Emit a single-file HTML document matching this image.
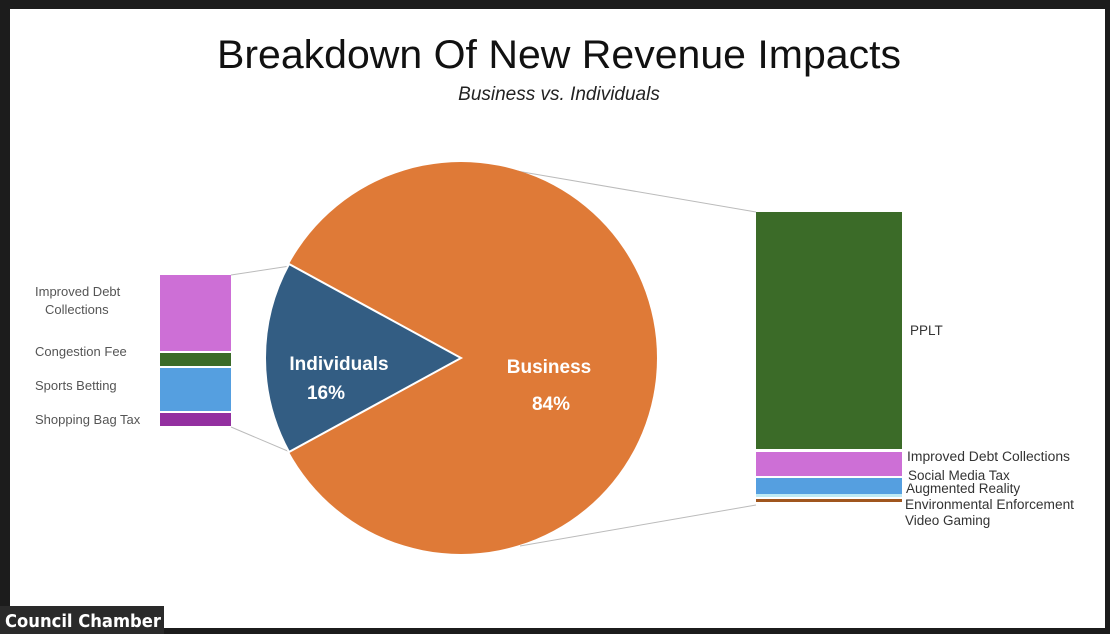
<!DOCTYPE html>
<html><head><style>
html,body{margin:0;padding:0;background:#1c1c1c;}
body{width:1110px;height:634px;position:relative;overflow:hidden;font-family:"Liberation Sans",sans-serif;}
</style></head><body>
<svg width="1110" height="634" xmlns="http://www.w3.org/2000/svg" style="position:absolute;left:0;top:0">
<rect x="0" y="0" width="1110" height="634" fill="#1c1c1c"/>
<rect x="10" y="9" width="1095" height="619" fill="#ffffff"/>
<text x="559" y="68" text-anchor="middle" font-size="40" fill="#111" font-family="Liberation Sans" textLength="684" lengthAdjust="spacingAndGlyphs">Breakdown Of New Revenue Impacts</text>
<text x="559" y="100" text-anchor="middle" font-size="19" font-style="italic" fill="#222">Business vs. Individuals</text>
<g stroke="#bbb" stroke-width="1">
<line x1="231" y1="275" x2="290" y2="266"/>
<line x1="231" y1="427" x2="290" y2="452"/>
<line x1="470" y1="163" x2="756" y2="212"/>
<line x1="520" y1="546" x2="756" y2="505"/>
</g>
<circle cx="461" cy="358" r="196" fill="#df7a37"/>
<path d="M461,358 L289,264 A196,196 0 0 0 289,452 Z" fill="#335d83" stroke="#fff" stroke-width="2"/>
<text x="339" y="370" text-anchor="middle" font-size="19" font-weight="bold" fill="#fff">Individuals</text>
<text x="326" y="399" text-anchor="middle" font-size="19" font-weight="bold" fill="#fff">16%</text>
<text x="549" y="373" text-anchor="middle" font-size="19" font-weight="bold" fill="#fff">Business</text>
<text x="551" y="410" text-anchor="middle" font-size="19" font-weight="bold" fill="#fff">84%</text>
<rect x="160" y="275" width="71" height="76" fill="#cd6fd6"/>
<rect x="160" y="353" width="71" height="13" fill="#3b6b28"/>
<rect x="160" y="368" width="71" height="43" fill="#559fe0"/>
<rect x="160" y="413" width="71" height="13" fill="#9330a0"/>
<g font-size="13" fill="#555">
<text x="35" y="296">Improved Debt</text>
<text x="45" y="314">Collections</text>
<text x="35" y="356">Congestion Fee</text>
<text x="35" y="390">Sports Betting</text>
<text x="35" y="424">Shopping Bag Tax</text>
</g>
<rect x="756" y="212" width="146" height="237" fill="#3b6b28"/>
<rect x="756" y="452" width="146" height="24" fill="#cd6fd6"/>
<rect x="756" y="478" width="146" height="16" fill="#559fe0"/>
<rect x="756" y="494" width="146" height="3" fill="#bfeaf4"/>
<rect x="756" y="499" width="146" height="3" fill="#a0561e"/>
<g font-size="13.5" fill="#333">
<text x="910" y="335">PPLT</text>
<text x="907" y="461" textLength="163" lengthAdjust="spacingAndGlyphs">Improved Debt Collections</text>
<text x="908" y="480">Social Media Tax</text>
<text x="906" y="493">Augmented Reality</text>
<text x="905" y="509" textLength="169" lengthAdjust="spacingAndGlyphs">Environmental Enforcement</text>
<text x="905" y="525">Video Gaming</text>
</g>
<rect x="0" y="606" width="164" height="28" fill="#2a2a2a"/>
<text x="5" y="627" font-size="18" font-weight="bold" fill="#fff" font-family="DejaVu Sans Condensed, DejaVu Sans" textLength="156" lengthAdjust="spacingAndGlyphs">Council Chamber</text>
</svg>
</body></html>
